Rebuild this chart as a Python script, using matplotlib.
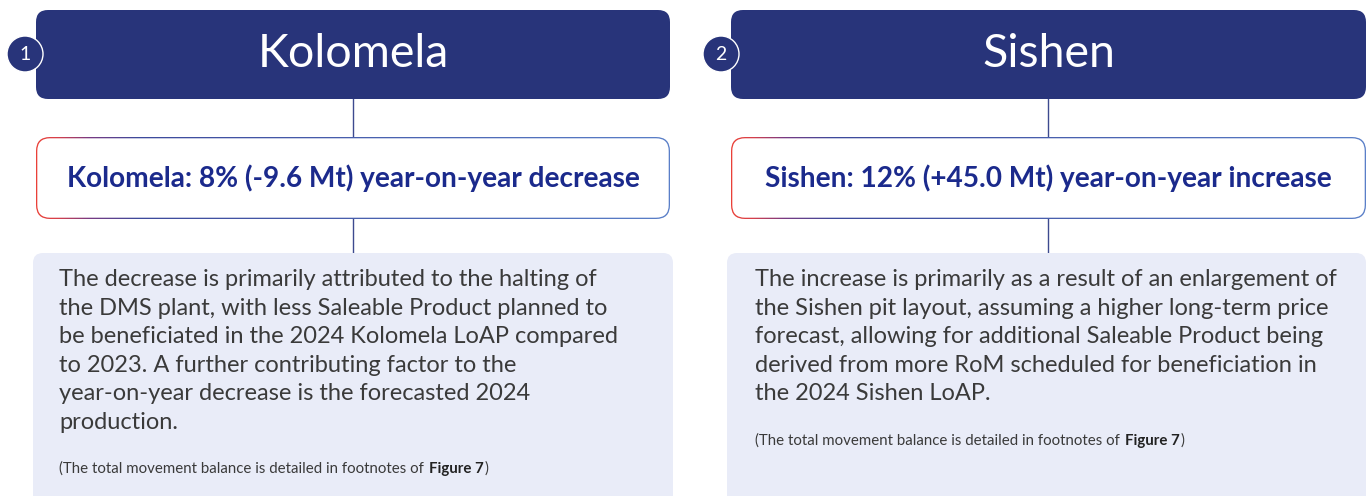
import matplotlib.pyplot as plt
import numpy as np
from matplotlib.patches import FancyBboxPatch, Circle
from matplotlib.colors import LinearSegmentedColormap

# text content
numbers = ["1", "2"]
sites = ["Kolomela", "Sishen"]
summaries = ["Kolomela: 8% (-9.6 Mt) year-on-year decrease",
             "Sishen: 12% (+45.0 Mt) year-on-year increase"]
body_left = ["The decrease is primarily attributed to the halting of",
             "the DMS plant, with less Saleable Product planned to",
             "be beneficiated in the 2024 Kolomela LoAP compared",
             "to 2023. A further contributing factor to the",
             "year-on-year decrease is the forecasted 2024",
             "production."]
body_right = ["The increase is primarily as a result of an enlargement of",
              "the Sishen pit layout, assuming a higher long-term price",
              "forecast, allowing for additional Saleable Product being",
              "derived from more RoM scheduled for beneficiation in",
              "the 2024 Sishen LoAP."]
bodies = [body_left, body_right]
footnote = "(The total movement balance is detailed in footnotes of "
footnote_ref = "Figure 7"

navy = "#28347A"
text_blue = "#1B2A8C"
body_bg = "#E9ECF8"
body_text = "#3A3A3A"
border_cmap = LinearSegmentedColormap.from_list(
    "border", [(0, "#EA4038"), (0.03, "#D8404A"), (0.08, "#7A3A82"),
               (0.16, "#3D4A9C"), (1.0, "#5A7FC8")])

FONT = "Lato"

fig = plt.figure(figsize=(13.7, 4.96), dpi=100)
ax = fig.add_axes([0, 0, 1, 1])
ax.set_xlim(0, 1370)
ax.set_ylim(496, 0)
ax.axis("off")

panels = [
    dict(x0=36, x1=670, bx0=33, bx1=673, cx=25),
    dict(x0=731, x1=1366, bx0=727, bx1=1366, cx=721),
]

foot_texts = []
for i, p in enumerate(panels):
    x0, x1 = p["x0"], p["x1"]
    mid = (x0 + x1) / 2

    # header
    ax.add_patch(FancyBboxPatch((x0, 10), x1 - x0, 89,
                                boxstyle="round,pad=0,rounding_size=12",
                                fc=navy, ec="none", zorder=2))
    ax.text(mid, 67, sites[i], color="white", fontsize=33.5, family=FONT,
            ha="center", va="baseline", zorder=3)
    ax.add_patch(Circle((p["cx"], 54), 18, fc=navy, ec="white", lw=1.0, zorder=4))
    ax.text(p["cx"], 54.5, numbers[i], color="white", fontsize=14, family=FONT,
            ha="center", va="center", zorder=5)

    # connectors
    ax.plot([mid, mid], [99, 137], color="#3D4A8F", lw=1.0, zorder=1)
    ax.plot([mid, mid], [219, 253], color="#3D4A8F", lw=1.0, zorder=1)

    # summary box with gradient border
    outer = FancyBboxPatch((x0, 137), x1 - x0, 82,
                           boxstyle="round,pad=0,rounding_size=14",
                           fc="none", ec="none", zorder=2)
    ax.add_patch(outer)
    grad = np.linspace(0, 1, 400).reshape(1, -1)
    im = ax.imshow(grad, cmap=border_cmap, aspect="auto",
                   extent=(x0, x1, 219, 137), zorder=2)
    im.set_clip_path(outer)
    ax.add_patch(FancyBboxPatch((x0 + 1.3, 138.3), x1 - x0 - 2.6, 79.4,
                                boxstyle="round,pad=0,rounding_size=12.7",
                                fc="white", ec="none", zorder=3))
    ax.text(mid, 187, summaries[i], color=text_blue, fontsize=20.2, family=FONT,
            fontweight="bold", ha="center", va="baseline", zorder=4)

    # body box
    ax.add_patch(FancyBboxPatch((p["bx0"], 253), p["bx1"] - p["bx0"], 280,
                                boxstyle="round,pad=0,rounding_size=10",
                                fc=body_bg, ec="none", zorder=1))
    tx = p["bx0"] + 26 if i == 0 else p["bx0"] + 28
    y = 286
    for line in bodies[i]:
        ax.text(tx, y, line, color=body_text, fontsize=17, family=FONT,
                ha="left", va="baseline", zorder=2)
        y += 28.6
    fy = y + 15.5
    t = ax.text(tx, fy, footnote, color=body_text, fontsize=10.8, family=FONT,
                ha="left", va="baseline", zorder=2)
    foot_texts.append((t, fy))

fig.canvas.draw()
inv = ax.transData.inverted()
for t, fy in foot_texts:
    bb = t.get_window_extent()
    xe = inv.transform((bb.x1, bb.y0))[0]
    t2 = ax.text(xe + 1, fy, footnote_ref, color="#222222", fontsize=10.8,
                 family=FONT, fontweight="bold", ha="left", va="baseline", zorder=2)
    fig.canvas.draw()
    bb2 = t2.get_window_extent()
    xe2 = inv.transform((bb2.x1, bb2.y0))[0]
    ax.text(xe2 + 1.5, fy, ")", color=body_text, fontsize=10.8, family=FONT,
            ha="left", va="baseline", zorder=2)

fig.savefig("out.png", dpi=100)
